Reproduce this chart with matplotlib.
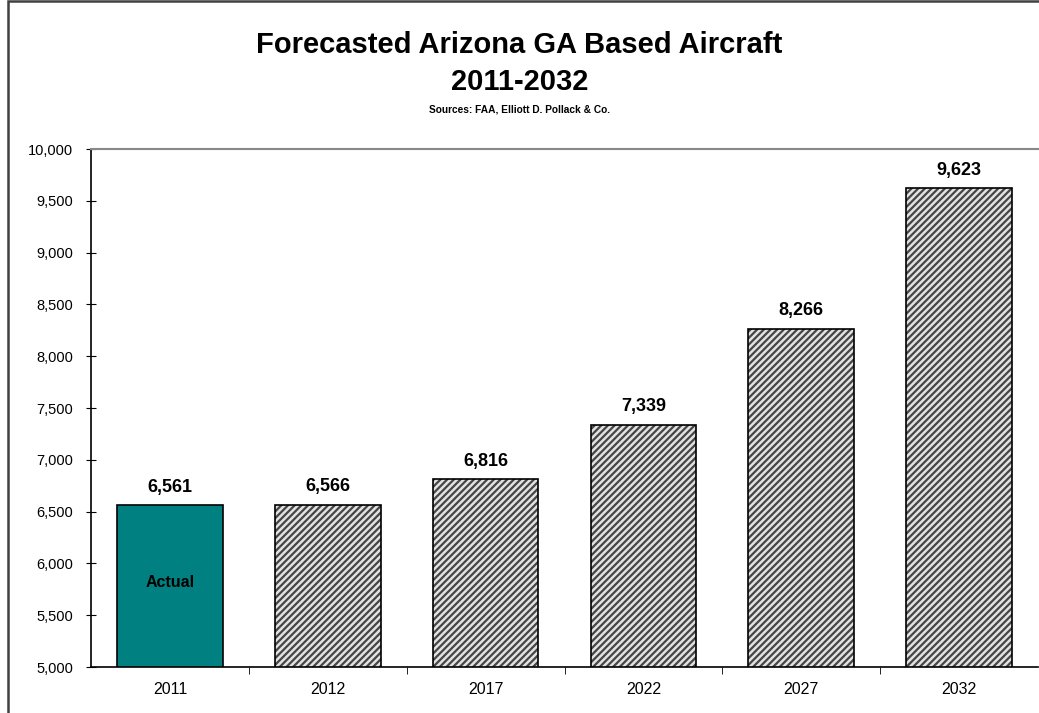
import numpy as np
import matplotlib.pyplot as plt
from matplotlib.patches import Rectangle

plt.rcParams['font.family'] = ['Liberation Sans', 'DejaVu Sans']
plt.rcParams['hatch.linewidth'] = 1.6

years = ['2011', '2012', '2017', '2022', '2027', '2032']
aircraft = [6561, 6566, 6816, 7339, 8266, 9623]
actual_flag = [True, False, False, False, False, False]

fig = plt.figure(figsize=(10.39, 7.13), dpi=100)
ax = fig.add_axes([0.0876, 0.0645, 0.9115, 0.7265])

# outer chart frame (only left/top edges fall inside the image)
fig.patches.append(Rectangle((8 / 1039, -0.1), 1.2, 1.1 - 1.5 / 713,
                             transform=fig.transFigure, fill=False,
                             edgecolor='#404040', linewidth=1.8))

x = np.arange(len(years))
for i in range(len(years)):
    if actual_flag[i]:
        ax.bar(x[i], aircraft[i] - 5000, bottom=5000, width=0.67,
               color='#008080', edgecolor='black', linewidth=1.2, zorder=3)
        ax.text(x[i], 5000 + (aircraft[i] - 5000) * 0.52, 'Actual',
                ha='center', va='center', fontsize=11.5, fontweight='bold',
                zorder=4)
    else:
        ax.bar(x[i], aircraft[i] - 5000, bottom=5000, width=0.67,
               facecolor='#e2e2e2', edgecolor='#454545', hatch='/////',
               linewidth=0, zorder=3)
        ax.bar(x[i], aircraft[i] - 5000, bottom=5000, width=0.67,
               fill=False, edgecolor='black', linewidth=1.2, zorder=4)
    ax.text(x[i], aircraft[i] + 90, '{:,}'.format(aircraft[i]), ha='center',
            va='bottom', fontsize=13, fontweight='bold')

ax.set_xlim(-0.5, 5.5)
ax.set_ylim(5000, 10000)
ax.set_yticks(np.arange(5000, 10001, 500))
ax.set_yticklabels(['{:,}'.format(v) for v in range(5000, 10001, 500)],
                   fontsize=10.5)
ax.set_xticks(x)
ax.set_xticklabels(years, fontsize=11.5)
ax.set_xticks(np.arange(0.5, 5.5, 1), minor=True)
ax.tick_params(axis='x', which='major', length=0, pad=11)
ax.tick_params(axis='x', which='minor', length=5, direction='out')
ax.tick_params(axis='y', direction='inout', length=7, pad=9.5)

ax.spines['right'].set_visible(False)
ax.spines['top'].set_color('#888888')
ax.spines['top'].set_linewidth(1.5)
ax.spines['left'].set_linewidth(1.2)
ax.spines['bottom'].set_linewidth(1.2)

fig.text(0.5, 1 - 45 / 713, 'Forecasted Arizona GA Based Aircraft',
         ha='center', va='center', fontsize=21, fontweight='bold')
fig.text(0.5, 1 - 82 / 713, '2011-2032', ha='center', va='center',
         fontsize=21, fontweight='bold')
fig.text(0.5, 1 - 110 / 713, 'Sources: FAA, Elliott D. Pollack & Co.',
         ha='center', va='center', fontsize=7.3, fontweight='bold')

fig.savefig('out.png', dpi=100)
